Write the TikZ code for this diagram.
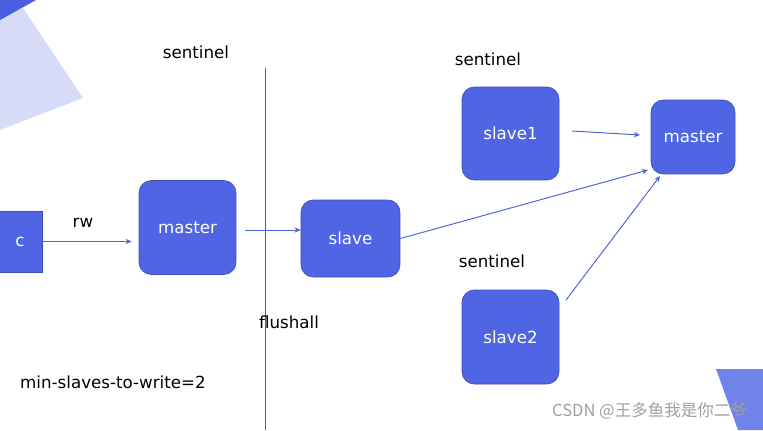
\documentclass[tikz,border=0pt]{standalone}
\usepackage{fontspec}
\setmainfont{DejaVu Sans}
\newfontfamily\cjk{Noto Sans CJK SC}
\usetikzlibrary{arrows.meta}

\definecolor{boxblue}{HTML}{4F65E3}
\definecolor{boxedge}{HTML}{3E50B8}
\definecolor{arrblue}{HTML}{4E63D6}
\definecolor{paleblue}{HTML}{D6DCF8}
\definecolor{deepblue}{HTML}{4A5EE0}
\definecolor{cornerblue}{HTML}{7083EA}
\definecolor{splitline}{HTML}{4A6666}

\tikzset{
  redis/.style={draw=boxedge, fill=boxblue, text=white, rounded corners=7pt,
    font=\fontsize{9.5}{11}\selectfont},
  client/.style={draw=boxedge, fill=boxblue, text=white,
    font=\fontsize{9.5}{11}\selectfont},
  tag/.style={font=\fontsize{9.5}{11}\selectfont},
  sync/.style={draw=arrblue, line width=0.55pt, -{Stealth[length=3.5pt,width=3pt]}},
}

\begin{document}
\begin{tikzpicture}[x=0.02cm, y=-0.02cm]
  \useasboundingbox (0,0) rectangle (763,430);
  % corner decorations
  \fill[paleblue] (0,18) -- (23,8) -- (83,98) -- (0,130) -- cycle;
  \fill[deepblue] (0,0) -- (36,0) -- (0,20) -- cycle;
  \fill[cornerblue] (716,369) -- (763,369) -- (763,430) -- (738,430) -- cycle;

  % left side: client writes to the old master
  \node[client, minimum width=0.88cm, minimum height=1.22cm] (c) at (20,241.5) {c};
  \node[redis, minimum width=1.94cm, minimum height=1.88cm] (oldmaster) at (187.5,227.5) {master};
  \node[tag] (rw) at (83,223) {rw};
  \node[tag] (sentA) at (196,52) {sentinel};
  \node[tag] (minslaves) at (113,382) {min-slaves-to-write=2};
  \draw[sync, shorten >=4pt] (c.east) -- (c.east -| oldmaster.west);

  % split line
  \coordinate (cutTop) at (265,68);
  \coordinate (cutBot) at (265,430);
  \draw[splitline, line width=0.45pt] (cutTop) -- (cutBot);
  \node[tag] (flush) at (289,322) {flushall};

  % right side: the old master is now a slave
  \node[redis, minimum width=1.98cm, minimum height=1.54cm] (slave) at (350.5,238.5) {slave};
  \coordinate (fromOld) at (245,230);
  \draw[sync] (fromOld) -- (fromOld -| slave.west);

  \node[tag] (sentB) at (488,59) {sentinel};
  \node[redis, minimum width=1.94cm, minimum height=1.86cm] (slaveA) at (510.5,133.5) {slave1};
  \node[tag] (sentC) at (492,261) {sentinel};
  \node[redis, minimum width=1.94cm, minimum height=1.88cm] (slaveB) at (510.5,337) {slave2};
  \node[redis, minimum width=1.68cm, minimum height=1.48cm] (newmaster) at (693,137) {master};

  % replication towards the new master
  \coordinate (aOut) at (572,131);
  \coordinate (aIn) at (640,135);
  \coordinate (sIn) at (648,170);
  \coordinate (bOut) at (566,300);
  \coordinate (bIn) at (660,176);
  \draw[sync] (aOut) -- (aIn);
  \draw[sync] (slave.east) -- (sIn);
  \draw[sync] (bOut) -- (bIn);

  % watermark
  \node[text=gray!75, font=\fontsize{9.4}{11}\cjk, anchor=west] (mark) at (546,411) {CSDN @王多鱼我是你二爷};
\end{tikzpicture}
\end{document}
